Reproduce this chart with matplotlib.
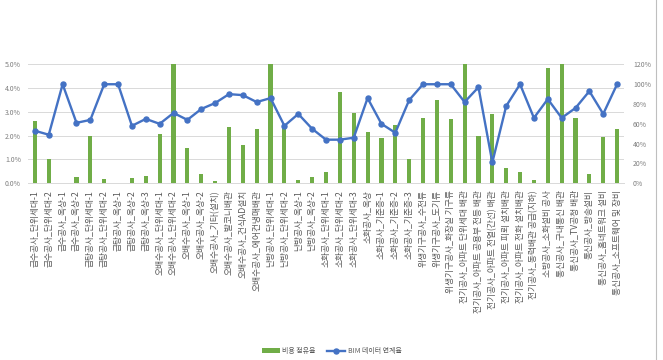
import matplotlib
matplotlib.use("Agg")
import matplotlib.pyplot as plt
from matplotlib.lines import Line2D
from matplotlib.ticker import FuncFormatter

plt.rcParams['font.family'] = ['Noto Sans CJK KR', 'DejaVu Sans']

categories = [
    "급수공사_단위세대-1", "급수공사_단위세대-2", "급수공사_옥상-1", "급수공사_옥상-2",
    "급탕공사_단위세대-1", "급탕공사_단위세대-2", "급탕공사_옥상-1", "급탕공사_옥상-2",
    "급탕공사_옥상-3", "오배수공사_단위세대-1", "오배수공사_단위세대-2", "오배수공사_옥상-1",
    "오배수공사_옥상-2", "오배수공사_기타(설치)", "오배수공사_발코니배관", "오배수공사_건식AD설치",
    "오배수공사_에어컨냉매배관", "난방공사_단위세대-1", "난방공사_단위세대-2", "난방공사_옥상-1",
    "난방공사_옥상-2", "소화공사_단위세대-1", "소화공사_단위세대-2", "소화공사_단위세대-3",
    "소화공사_옥상", "소화공사_기준층-1", "소화공사_기준층-2", "소화공사_기준층-3",
    "위생기구공사_수전류", "위생기구공사_도기류", "위생기구공사_화장실 기구류",
    "전기공사_아파트 단위세대 배관", "전기공사_아파트 공용부 전등 배관",
    "전기공사_아파트 전열(간선) 배관", "전기공사_아파트 피뢰 설치배관",
    "전기공사_아파트 전화 설치배관", "전기공사_동력배관 공급(지하)",
    "소방공사_소화설비 공사", "통신공사_구내통신 배관", "통신공사_TV공청 배관",
    "통신공사_방송설비", "통신공사_홈네트워크 설비", "통신공사_소프트웨어 및 장비",
]

# 비용 점유율 (%), left axis
cost_share = [2.62, 1.01, 0, 0.25, 1.99, 0.17, 0, 0.2, 0.32, 2.06,
              5.0, 1.5, 0.39, 0.1, 2.35, 1.61, 2.28, 5.0, 2.38, 0.14,
              0.28, 0.46, 3.82, 2.94, 2.17, 1.89, 2.45, 1.04, 2.73, 3.5,
              2.7, 5.0, 2.0, 2.9, 0.63, 0.49, 0.14, 4.83, 5.0, 2.76,
              0.38, 1.96, 2.28]

# BIM 데이터 연계율 (%), right axis
bim_link = [53, 49, 100, 61, 64, 100, 100, 58, 65, 60,
            71, 64, 75, 81, 90, 89, 82, 86, 58, 70,
            55, 44, 44, 46, 86, 60, 51, 84, 100, 100,
            100, 82, 97, 21, 78, 100, 66, 85, 66, 76,
            93, 70, 100]

green = "#70AD47"
blue = "#4472C4"
grey = "#595959"

fig = plt.figure(figsize=(6.63, 3.6), dpi=100)
ax = fig.add_axes([0.0422, 0.491, 0.899, 0.33])
ax2 = ax.twinx()

x = list(range(len(categories)))
ax.bar(x, cost_share, width=0.3, color=green, label="비용 점유율", zorder=2)
ax2.plot(x, bim_link, color=blue, lw=1.7, marker="o", markersize=3.6,
         label="BIM 데이터 연계율", zorder=3)

ax.set_xlim(-0.5, len(categories) - 0.5)
ax.set_ylim(0, 5)
ax2.set_ylim(0, 120)
ax.set_yticks([0, 1, 2, 3, 4, 5])
ax2.set_yticks(range(0, 121, 20))
ax.yaxis.set_major_formatter(FuncFormatter(lambda v, p: f"{v:.1f}%"))
ax2.yaxis.set_major_formatter(FuncFormatter(lambda v, p: f"{int(v)}%"))

ax.grid(axis="y", color="#D9D9D9", lw=0.7, zorder=0)
ax.set_axisbelow(True)

for a in (ax, ax2):
    for s in a.spines.values():
        s.set_visible(False)
ax.spines["bottom"].set_visible(True)
ax.spines["bottom"].set_color("#D9D9D9")
ax.spines["bottom"].set_linewidth(0.7)

ax.tick_params(axis="y", length=0, labelsize=5, labelcolor="#7F7F7F", pad=5)
ax2.tick_params(axis="y", length=0, labelsize=5, labelcolor="#7F7F7F", pad=6.5)
ax.set_xticks(x)
ax.set_xticklabels(categories, rotation=90, fontsize=6.3, color=grey, va="top", ha="center")
ax.tick_params(axis="x", length=0, pad=5)

h1, l1 = ax.get_legend_handles_labels()
h2, l2 = ax2.get_legend_handles_labels()
fig.legend(h1 + h2, l1 + l2, loc="center", bbox_to_anchor=(0.5, 0.025), ncol=2,
           frameon=False, fontsize=5, labelcolor=grey, handlelength=2.6,
           columnspacing=1.6, handletextpad=0.4)

# chart border on the right edge
fig.add_artist(Line2D([656 / 663, 656 / 663], [0, 1], color="#BFBFBF", lw=0.8))

plt.savefig("out.png", dpi=100)
